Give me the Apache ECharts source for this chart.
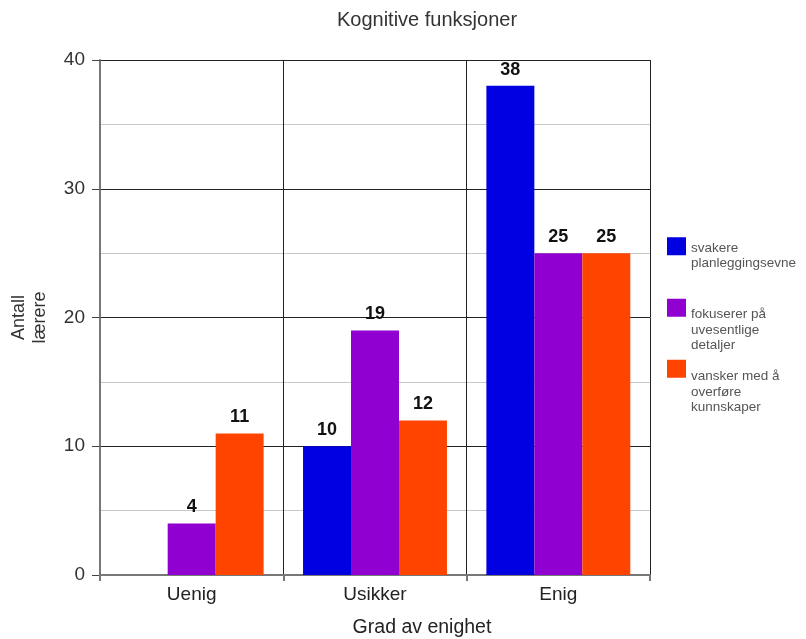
<!DOCTYPE html>
<html>
<head>
<meta charset="utf-8">
<style>
  html, body { margin: 0; padding: 0; background: #ffffff; }
  #chart { width: 806px; height: 639px; }
</style>
<script src="https://cdn.jsdelivr.net/npm/echarts@6/dist/echarts.min.js"></script>
</head>
<body>
<div id="chart"></div>
<script>
// Categories on the x axis
const categories = ['Uenig', 'Usikker', 'Enig'];

// Series names and their values per category
const seriesNames = [
  'svakere\nplanleggingsevne',
  'fokuserer på\nuvesentlige\ndetaljer',
  'vansker med å\noverføre\nkunnskaper'
];
const svakere = [0, 10, 38];
const fokuserer = [4, 19, 25];
const vansker = [11, 12, 25];

// Y axis tick values
const yTicks = [0, 10, 20, 30, 40];

const colors = ['#0000e0', '#9000d0', '#ff4400'];
const seriesData = [svakere, fokuserer, vansker];
const FONT = 'Liberation Sans, Arial, sans-serif';

const chart = echarts.init(document.getElementById('chart'));

const labelStyle = {
  show: true,
  position: 'top',
  distance: 7,
  fontFamily: FONT,
  fontWeight: 'bold',
  fontSize: 18,
  color: '#111',
  formatter: p => (p.value === 0 ? '' : p.value)
};

// One legend block per series; a spacer line pushes each text below its swatch centre
const legendTops = [221, 262, 322];
const legendSpacers = [19.5, 45, 47];
const legends = seriesNames.map((name, i) => ({
  data: [name],
  orient: 'vertical',
  left: 667,
  top: legendTops[i],
  padding: 0,
  itemWidth: 19,
  itemHeight: 18,
  itemGap: 0,
  selectedMode: false,
  icon: 'rect',
  formatter: n => '{s| }\n' + n,
  textStyle: {
    fontFamily: FONT,
    fontSize: 13.5,
    lineHeight: 15.5,
    color: '#555',
    rich: {
      s: { fontSize: 1, lineHeight: legendSpacers[i] }
    }
  }
}));

const option = {
  animation: false,
  backgroundColor: '#ffffff',
  title: {
    text: 'Kognitive funksjoner',
    left: 422,
    textAlign: 'center',
    top: 5,
    textStyle: {
      fontFamily: FONT,
      fontSize: 20,
      fontWeight: 'normal',
      color: '#333'
    }
  },
  legend: legends,
  grid: {
    left: 100, right: 156, top: 60, bottom: 64,
    containLabel: false,
    outerBoundsMode: 'none'
  },
  xAxis: {
    type: 'category',
    data: categories,
    name: 'Grad av enighet',
    nameLocation: 'middle',
    nameGap: 43,
    nameTextStyle: {
      fontFamily: FONT,
      fontSize: 19.5,
      color: '#222',
      padding: [0, 0, 0, 94]
    },
    axisLine: { lineStyle: { color: '#777', width: 2 } },
    axisTick: { show: true, length: 6, lineStyle: { color: '#777', width: 2 } },
    axisLabel: {
      fontFamily: FONT,
      fontSize: 19,
      color: '#222',
      margin: 10
    },
    splitLine: { show: true, lineStyle: { color: '#222', width: 1 } }
  },
  yAxis: {
    type: 'value',
    min: yTicks[0],
    max: yTicks[yTicks.length - 1],
    interval: 10,
    name: 'Antall\nlærere',
    nameLocation: 'middle',
    nameRotate: 90,
    nameGap: 49,
    nameTextStyle: {
      fontFamily: FONT,
      fontSize: 18,
      lineHeight: 21,
      color: '#333'
    },
    axisLine: { show: true, lineStyle: { color: '#777', width: 2 } },
    axisTick: { show: true, length: 8, lineStyle: { color: '#444', width: 1 } },
    axisLabel: {
      fontFamily: FONT,
      fontSize: 19,
      color: '#333',
      margin: 15
    },
    splitLine: { show: true, lineStyle: { color: '#222', width: 1 } },
    minorTick: { show: false, splitNumber: 2 },
    minorSplitLine: { show: true, lineStyle: { color: '#c8c8c8', width: 1 } }
  },
  series: seriesNames.map((name, i) => ({
    name: name,
    type: 'bar',
    data: seriesData[i],
    barGap: '0%',
    barCategoryGap: '21.5%',
    itemStyle: { color: colors[i] },
    label: labelStyle
  }))
};

chart.setOption(option);
</script>
</body>
</html>
